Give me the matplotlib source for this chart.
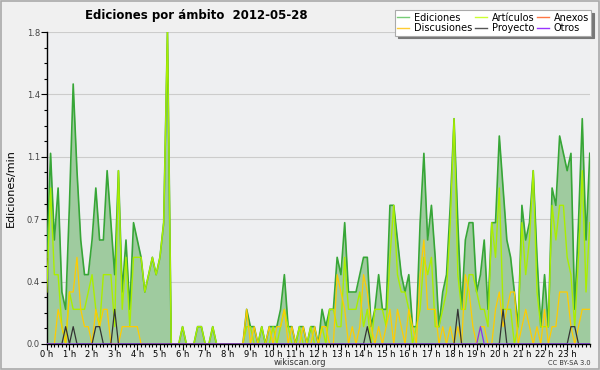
import matplotlib
matplotlib.use("Agg")
import matplotlib.pyplot as plt
from matplotlib.lines import Line2D
import numpy as np

# edits per 10-minute slot, 00:00 .. 24:00 (145 slots)
ediciones = [
    5, 11, 6, 9, 3, 2, 8, 15, 10, 6, 4, 4,
    6, 9, 6, 6, 10, 7, 4, 10, 3, 6, 2, 7,
    6, 5, 3, 4, 5, 4, 5, 7, 18, 0, 0, 0,
    1, 0, 0, 0, 1, 1, 0, 0, 1, 0, 0, 0,
    0, 0, 0, 0, 0, 2, 1, 1, 0, 1, 0, 1,
    1, 1, 2, 4, 1, 1, 0, 1, 1, 0, 1, 1,
    0, 2, 1, 2, 2, 5, 4, 7, 3, 3, 3, 4,
    5, 5, 1, 2, 4, 2, 2, 8, 8, 6, 4, 3,
    4, 1, 1, 7, 11, 6, 8, 5, 1, 3, 4, 8,
    13, 7, 2, 6, 7, 7, 3, 4, 6, 2, 7, 7,
    12, 9, 6, 5, 3, 1, 8, 6, 7, 10, 5, 1,
    4, 1, 9, 8, 12, 11, 10, 11, 2, 7, 13, 6,
    11,
]
articulos = [
    3, 9, 4, 4, 1, 0, 3, 2, 2, 2, 2, 3,
    4, 2, 1, 4, 4, 4, 1, 10, 2, 5, 1, 5,
    5, 5, 3, 4, 5, 4, 5, 7, 18, 0, 0, 0,
    1, 0, 0, 0, 1, 1, 0, 0, 1, 0, 0, 0,
    0, 0, 0, 0, 0, 1, 1, 0, 0, 1, 0, 0,
    1, 0, 1, 2, 1, 0, 0, 1, 0, 0, 1, 0,
    0, 1, 0, 2, 2, 1, 1, 5, 2, 2, 2, 3,
    1, 2, 0, 2, 2, 2, 1, 5, 8, 4, 3, 3,
    2, 0, 1, 2, 5, 4, 5, 1, 1, 2, 3, 7,
    13, 4, 2, 2, 4, 4, 3, 2, 2, 1, 7, 5,
    9, 2, 2, 2, 0, 1, 7, 4, 6, 10, 3, 1,
    1, 1, 8, 6, 8, 8, 5, 4, 1, 5, 10, 3,
    7,
]
discusiones = [
    0, 0, 0, 2, 1, 0, 3, 3, 5, 2, 1, 1,
    0, 2, 1, 2, 2, 0, 0, 0, 1, 1, 1, 1,
    1, 0, 0, 0, 0, 0, 0, 0, 0, 0, 0, 0,
    0, 0, 0, 0, 0, 0, 0, 0, 0, 0, 0, 0,
    0, 0, 0, 0, 0, 2, 0, 1, 0, 0, 0, 1,
    0, 1, 1, 2, 0, 1, 0, 0, 1, 0, 0, 1,
    0, 1, 1, 0, 0, 4, 3, 2, 0, 1, 0, 1,
    4, 3, 1, 0, 1, 0, 1, 2, 0, 2, 1, 0,
    2, 1, 0, 4, 6, 2, 2, 2, 0, 1, 0, 1,
    0, 1, 0, 4, 3, 1, 0, 1, 1, 0, 0, 2,
    3, 1, 2, 3, 3, 0, 1, 2, 1, 0, 1, 0,
    2, 0, 1, 1, 3, 3, 3, 1, 0, 1, 2, 2,
    2,
]
proyecto = [
    0, 0, 0, 0, 0, 1, 0, 1, 0, 0, 0, 0,
    0, 1, 1, 0, 0, 0, 2, 0, 0, 0, 0, 0,
    0, 0, 0, 0, 0, 0, 0, 0, 0, 0, 0, 0,
    0, 0, 0, 0, 0, 0, 0, 0, 0, 0, 0, 0,
    0, 0, 0, 0, 0, 0, 0, 0, 0, 0, 0, 0,
    0, 0, 0, 0, 0, 0, 0, 0, 0, 0, 0, 0,
    0, 0, 0, 0, 0, 0, 0, 0, 0, 0, 0, 0,
    0, 1, 0, 0, 0, 0, 0, 0, 0, 0, 0, 0,
    0, 0, 0, 0, 0, 0, 0, 0, 0, 0, 0, 0,
    0, 2, 0, 0, 0, 0, 0, 0, 0, 0, 0, 0,
    0, 2, 0, 0, 0, 0, 0, 0, 0, 0, 0, 0,
    0, 0, 0, 0, 0, 0, 0, 1, 1, 0, 0, 0,
    0,
]
otros = [
    0, 0, 0, 0, 0, 0, 0, 0, 0, 0, 0, 0,
    0, 0, 0, 0, 0, 0, 0, 0, 0, 0, 0, 0,
    0, 0, 0, 0, 0, 0, 0, 0, 0, 0, 0, 0,
    0, 0, 0, 0, 0, 0, 0, 0, 0, 0, 0, 0,
    0, 0, 0, 0, 0, 0, 0, 0, 0, 0, 0, 0,
    0, 0, 0, 0, 0, 0, 0, 0, 0, 0, 0, 0,
    0, 0, 0, 0, 0, 0, 0, 0, 0, 0, 0, 0,
    0, 0, 0, 0, 0, 0, 0, 0, 0, 0, 0, 0,
    0, 0, 0, 0, 0, 0, 0, 0, 0, 0, 0, 0,
    0, 0, 0, 0, 0, 0, 0, 1, 0, 0, 0, 0,
    0, 0, 0, 0, 0, 0, 0, 0, 0, 0, 0, 0,
    0, 0, 0, 0, 0, 0, 0, 0, 0, 0, 0, 0,
    0,
]

legend_labels = ["Ediciones", "Discusiones", "Artículos", "Proyecto", "Anexos", "Otros"]
legend_colors = ["#77cc77", "#ffcc33", "#ccff33", "#555555", "#ff7744", "#9933ff"]
yticks = [0.0, 0.36, 0.72, 1.08, 1.44, 1.8]
ytick_labels = ["0.0", "0.4", "0.7", "1.1", "1.4", "1.8"]
hour_labels = [f"{h} h" for h in range(24)]

hours = np.arange(len(ediciones)) / 6.0
to_min = lambda s: np.array(s) / 10.0

fig = plt.figure(figsize=(6, 3.7), dpi=100, facecolor="#f0f0f0")
ax = fig.add_axes([0.078, 0.0703, 0.905, 0.8432])
ax.set_facecolor("#eeeff1")

ax.fill_between(hours, 0, to_min(ediciones), color="#9fcb9f", lw=0, zorder=2)
ax.plot(hours, to_min(ediciones), color="#37a637", lw=1.2, zorder=3)
ax.plot(hours, to_min(articulos), color="#aaee00", lw=1.0, zorder=4)
ax.plot(hours, to_min(discusiones), color="#ffcc00", lw=0.9, zorder=5)
ax.plot(hours, to_min(proyecto), color="#333333", lw=0.9, zorder=6)
ax.plot(hours, to_min(otros), color="#8833ee", lw=0.9, zorder=7)

ax.set_xlim(0, 24)
ax.set_ylim(0, 1.8)
ax.set_yticks(yticks)
ax.set_yticklabels(ytick_labels)
ax.set_yticks(np.arange(0, 1.81, 0.09), minor=True)
ax.set_xticks(range(24))
ax.set_xticklabels(hour_labels)
ax.set_xticks(np.arange(0, 24.01, 1 / 6), minor=True)
ax.tick_params(axis="both", which="major", labelsize=6, length=4, width=0.8, colors="black", pad=1)
ax.tick_params(axis="x", which="major", pad=0.5)
ax.tick_params(axis="both", which="minor", length=2.5, width=0.8)
ax.tick_params(axis="y", labelcolor="#444444")
ax.grid(axis="y", color="#cccccc", lw=0.8, zorder=1)
ax.set_axisbelow(True)
for s in ["top", "right"]:
    ax.spines[s].set_visible(False)
ax.spines["left"].set_linewidth(1.0)
ax.spines["bottom"].set_linewidth(1.0)

ax.set_ylabel("Ediciones/min", fontsize=8, labelpad=8)

handles = [Line2D([], [], color=c, lw=1) for c in legend_colors]
leg = ax.legend(handles, legend_labels, ncol=3, loc="upper right",
                bbox_to_anchor=(1.012, 1.085), fontsize=7, frameon=True, fancybox=False,
                shadow={"color": "#777777", "alpha": 1}, edgecolor="#aaaaaa",
                handlelength=1.2, handletextpad=0.5, columnspacing=0.3,
                labelspacing=0.05, borderpad=0.25)
leg.get_frame().set_linewidth(0.8)

fig.text(0.142, 0.948, "Ediciones por ámbito  2012-05-28", fontsize=8.5, weight="bold")
fig.text(0.5, 0.013, "wikiscan.org", fontsize=6, ha="center", color="#333333")
fig.text(0.985, 0.013, "CC BY-SA 3.0", fontsize=4.8, ha="right", color="#333333")

fig.patches.append(plt.Rectangle((0.001, 0.002), 0.997, 0.995, transform=fig.transFigure,
                                 fill=False, edgecolor="#aaaaaa", lw=1.2))

fig.savefig("out.png", dpi=100, facecolor=fig.get_facecolor())
